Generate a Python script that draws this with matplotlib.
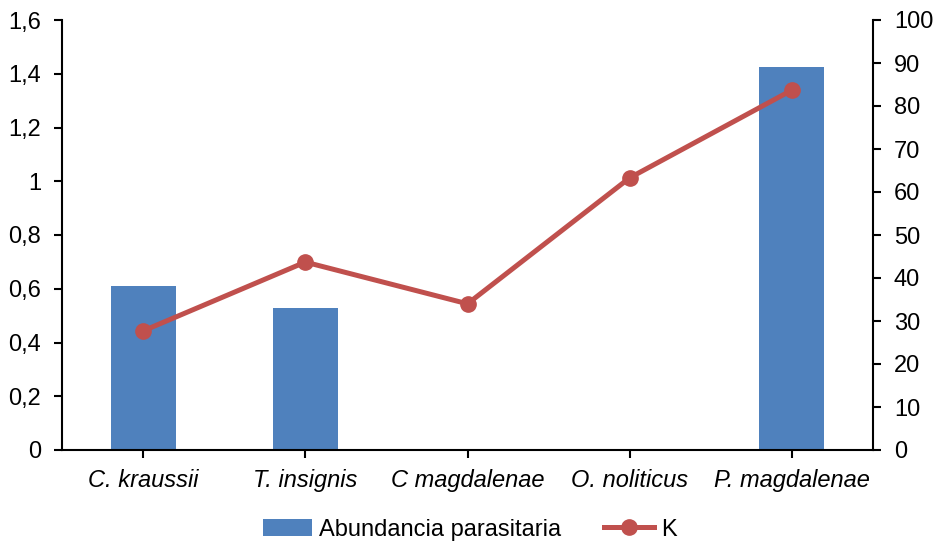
import matplotlib
matplotlib.use("Agg")
import matplotlib.pyplot as plt
import numpy as np

species = ["C. kraussii", "T. insignis", "C magdalenae", "O. noliticus", "P. magdalenae"]
abundancia = [0.61, 0.528, 0, 0, 1.425]
k_values = [27.7, 43.7, 34.0, 63.3, 83.7]
left_ticks = [0, 0.2, 0.4, 0.6, 0.8, 1, 1.2, 1.4, 1.6]
left_labels = ["0", "0,2", "0,4", "0,6", "0,8", "1", "1,2", "1,4", "1,6"]
right_ticks = list(range(0, 101, 10))

plt.rcParams["font.family"] = ["Liberation Sans", "DejaVu Sans"]
fs = 17

fig = plt.figure(figsize=(9.39, 5.46), dpi=100)
ax = fig.add_axes([62 / 939, 96 / 546, 811 / 939, 430 / 546])
x = np.arange(len(species))

bars = ax.bar(x, abundancia, width=0.4, color="#4F81BD", label="Abundancia parasitaria", zorder=2)
ax.set_xlim(-0.5, 4.5)
ax.set_ylim(0, 1.6)
ax.set_yticks(left_ticks)
ax.set_yticklabels(left_labels)
ax.set_xticks(x)
ax.set_xticklabels(species, style="italic")

ax2 = ax.twinx()
line, = ax2.plot(x, k_values, color="#C0504D", lw=3.6, marker="o", ms=11,
                 label="K", zorder=3)
ax2.set_ylim(0, 100)
ax2.set_yticks(right_ticks)

for a in (ax, ax2):
    a.spines["top"].set_visible(False)
    for s in a.spines.values():
        s.set_linewidth(1.5)
    a.tick_params(direction="out", length=6, width=1.5, labelsize=fs, pad=9)
ax.spines["right"].set_visible(False)
ax2.spines["left"].set_visible(False)
ax2.spines["bottom"].set_visible(False)
ax.tick_params(axis="x", pad=8)

fig.legend([bars, line], ["Abundancia parasitaria", "K"], loc="center",
           bbox_to_anchor=(0.5, 0.03), ncol=2, frameon=False, fontsize=fs,
           handlelength=2.1, handletextpad=0.3, columnspacing=1.8)

fig.savefig("out.png", dpi=100)
